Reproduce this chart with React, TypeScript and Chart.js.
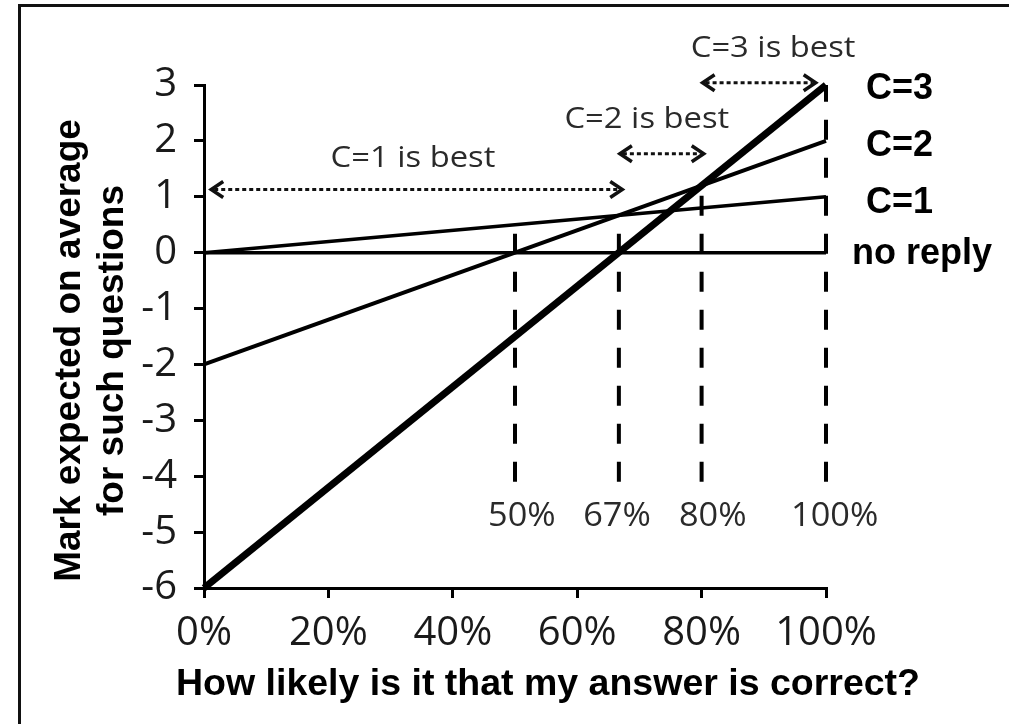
import React, { useEffect, useRef } from 'react';
import { Chart, registerables } from 'chart.js';

Chart.register(...registerables);

// ---- data ----
const probEnds = [0, 1];
const c1Values = [0, 1];
const c2Values = [-2, 2];
const c3Values = [-6, 3];
const noReplyValues = [0, 0];

const thresholdX = [0.5, 0.667, 0.8, 1.0];
const thresholdTop = [0.5, 0.667, 1.2, 3];
const thresholdBottom = -4.1;
const thresholdLabels = ['50%', '67%', '80%', '100%'];
const thresholdLabelX = [0.511, 0.664, 0.818, 1.014];
const thresholdLabelY = -4.72;

const arrowStart = [0.01, 0.667, 0.8];
const arrowEnd = [0.674, 0.805, 0.985];
const arrowY = [1.13, 1.77, 3.04];
const arrowLabels = ['C=1 is best', 'C=2 is best', 'C=3 is best'];
const arrowLabelX = [0.336, 0.712, 0.915];
const arrowLabelY = [1.68, 2.38, 3.65];

const lineLabels = ['C=3', 'C=2', 'C=1', 'no reply'];
const lineLabelY = [3, 2, 1, 0];

const xTickStep = 0.2;
const yTickStep = 1;
const xTitle = 'How likely is it that my answer is correct?';
const yTitle = ['Mark expected on average', 'for such questions'];

const BOLD = '"Liberation Sans", Arial, sans-serif';
const LIGHT = '"Open Sans", sans-serif';

function stretchText(ctx: CanvasRenderingContext2D, text: string, x: number, y: number, sx: number, align: CanvasTextAlign) {
  ctx.save();
  ctx.translate(x, y);
  ctx.scale(sx, 1);
  ctx.textAlign = align;
  ctx.fillText(text, 0, 0);
  ctx.restore();
}

const annotPlugin = {
  id: 'annot',
  afterDatasetsDraw(chart: any) {
    const { ctx, scales } = chart;
    const xs = scales.x;
    const ys = scales.y;
    ctx.save();
    // dotted double arrows
    ctx.strokeStyle = '#111';
    arrowStart.forEach((s, i) => {
      const x1 = xs.getPixelForValue(s);
      const x2 = xs.getPixelForValue(arrowEnd[i]);
      const y = ys.getPixelForValue(arrowY[i]);
      ctx.lineWidth = 3;
      ctx.setLineDash([4, 3]);
      ctx.beginPath();
      ctx.moveTo(x1 + 4, y);
      ctx.lineTo(x2 - 4, y);
      ctx.stroke();
      ctx.setLineDash([]);
      ctx.lineWidth = 3.5;
      ctx.beginPath();
      ctx.moveTo(x1 + 13, y - 8);
      ctx.lineTo(x1 + 1, y);
      ctx.lineTo(x1 + 13, y + 8);
      ctx.moveTo(x2 - 13, y - 8);
      ctx.lineTo(x2 - 1, y);
      ctx.lineTo(x2 - 13, y + 8);
      ctx.stroke();
    });
    // arrow labels
    ctx.fillStyle = '#2a2a2a';
    ctx.font = '29px ' + LIGHT;
    ctx.textBaseline = 'middle';
    arrowLabels.forEach((t, i) => {
      stretchText(ctx, t, xs.getPixelForValue(arrowLabelX[i]), ys.getPixelForValue(arrowLabelY[i]), 1.13, 'center');
    });
    // threshold labels
    ctx.font = '33px ' + LIGHT;
    thresholdLabels.forEach((t, i) => {
      stretchText(ctx, t, xs.getPixelForValue(thresholdLabelX[i]), ys.getPixelForValue(thresholdLabelY), 1.04, 'center');
    });
    // line labels
    ctx.fillStyle = '#000';
    ctx.font = 'bold 36px ' + BOLD;
    ctx.textBaseline = 'alphabetic';
    const dx = [40, 40, 40, 26];
    const dy = [14, 15, 16, 11];
    lineLabels.forEach((t, i) => {
      stretchText(ctx, t, xs.right + dx[i], ys.getPixelForValue(lineLabelY[i]) + dy[i], 1, 'left');
    });
    // x axis title
    ctx.font = 'bold 37.5px ' + BOLD;
    stretchText(ctx, xTitle, (xs.left + xs.right) / 2 + 33, ys.bottom + 107, 1, 'center');
    // y axis title (two lines, rotated)
    ctx.font = 'bold 37px ' + BOLD;
    ctx.textBaseline = 'middle';
    ctx.textAlign = 'center';
    const yc = (ys.top + ys.bottom) / 2 + 14;
    yTitle.forEach((t, i) => {
      ctx.save();
      ctx.translate(ys.left + 70 + i * 43, yc);
      ctx.rotate(-Math.PI / 2);
      ctx.fillText(t, 0, 0);
      ctx.restore();
    });
    ctx.restore();
  },
};

export default function App() {
  const ref = useRef<HTMLCanvasElement>(null);
  useEffect(() => {
    const canvas = ref.current;
    if (!canvas) return;
    const pts = (ys: number[]) => probEnds.map((x, i) => ({ x, y: ys[i] }));
    const datasets: any[] = [];
    thresholdX.forEach((x, i) => {
      datasets.push({
        label: thresholdLabels[i],
        data: [{ x, y: thresholdBottom }, { x, y: thresholdTop[i] }],
        borderColor: '#000',
        borderWidth: 4,
        borderDash: [20, 18],
        showLine: true,
        pointRadius: 0,
        clip: false,
        order: 10,
      });
    });
    const lineSpec: [string, number[], number][] = [
      ['no reply', noReplyValues, 3.5],
      ['C=1', c1Values, 3.5],
      ['C=2', c2Values, 4],
      ['C=3', c3Values, 7],
    ];
    lineSpec.forEach(([label, vals, w], i) => {
      datasets.push({
        label,
        data: pts(vals),
        borderColor: '#000',
        borderWidth: w,
        showLine: true,
        pointRadius: 0,
        clip: false,
        order: 5 - i,
        borderCapStyle: 'butt',
      });
    });

    const chart = new Chart(canvas, {
      type: 'scatter',
      data: { datasets },
      options: {
        animation: false,
        responsive: false,
        layout: { padding: { left: 0, right: 183, top: 85, bottom: 0 } },
        plugins: { legend: { display: false }, tooltip: { enabled: false } },
        scales: {
          x: {
            type: 'linear',
            min: 0,
            max: 1,
            afterFit: (s: any) => { s.height = 136; },
            ticks: {
              stepSize: xTickStep,
              callback: (v: any) => Math.round(Number(v) * 100) + '%',
              font: { family: LIGHT, size: 40 },
              color: '#1a1a1a',
              padding: 12,
              maxRotation: 0,
              autoSkip: false,
            },
            grid: { drawOnChartArea: false, drawTicks: true, tickLength: 10, color: '#000', lineWidth: 3 },
            border: { display: true, color: '#000', width: 3 },
            title: { display: false, text: xTitle },
          },
          y: {
            type: 'linear',
            min: -6,
            max: 3,
            afterFit: (s: any) => { s.width = 204; },
            ticks: {
              stepSize: yTickStep,
              font: { family: LIGHT, size: 40 },
              color: '#1a1a1a',
              padding: 17,
            },
            grid: { drawOnChartArea: false, drawTicks: true, tickLength: 10, color: '#000', lineWidth: 3 },
            border: { display: true, color: '#000', width: 3 },
            title: { display: false, text: yTitle },
          },
        },
      } as any,
      plugins: [annotPlugin],
    });
    return () => chart.destroy();
  }, []);

  return (
    <div style={{ position: 'fixed', left: 0, top: 0, width: 1009, height: 724, overflow: 'hidden', background: '#fff' }}>
      <div
        style={{
          position: 'absolute',
          left: 18,
          top: 4,
          width: 1200,
          height: 900,
          border: '3px solid #111',
          boxSizing: 'border-box',
        }}
      />
      <canvas ref={ref} width={1009} height={724} style={{ position: 'absolute', left: 0, top: 0 }} />
    </div>
  );
}
